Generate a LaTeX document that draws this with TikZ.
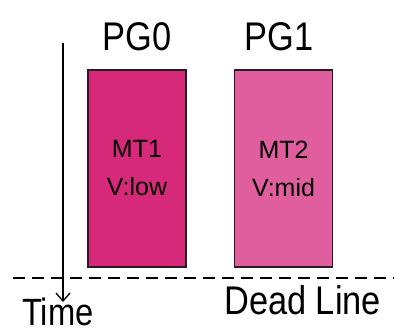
\documentclass[tikz,border=0pt]{standalone}
\usepackage{fontspec}
\setmainfont{Liberation Sans}
\newfontfamily\gothic[FakeStretch=0.86]{Liberation Sans}
\usetikzlibrary{arrows.meta}
\definecolor{rosaPG}{HTML}{D6297A}
\definecolor{rosaClaro}{HTML}{E05E9E}
\definecolor{bordeCaja}{HTML}{2A1A22}

\begin{document}
\begin{tikzpicture}[x=1pt,y=-1pt,>={Straight Barb[length=8pt,width=14pt]}]
  \useasboundingbox (0,0) rectangle (394,335);
  \tikzset{
    caja/.style={draw=bordeCaja,line width=1.4pt,minimum width=98pt,
      minimum height=197pt,inner sep=0pt,align=center,
      font=\fontsize{25}{38}\selectfont},
    etiqueta/.style={anchor=base,inner sep=0pt,font=\gothic\fontsize{40}{40}\selectfont}
  }
  % bloques de cada PG
  \node[caja,fill=rosaPG] (mt1) at (137,168.5) {MT1\\V:low};
  \node[caja,fill=rosaClaro] (mt2) at (283.5,168.5) {MT2\\V:mid};
  \node[etiqueta] (pg0) at (137,50) {PG0};
  \node[etiqueta] (pg1) at (279,50) {PG1};
  % linea limite
  \coordinate (dlA) at (13,278);
  \coordinate (dlB) at (394,278);
  \draw[line width=1.4pt,dash pattern=on 12pt off 7pt] (dlA) -- (dlB);
  \node[etiqueta,anchor=base west] (dl) at (224,314) {Dead Line};
  % eje del tiempo
  \coordinate (t0) at (63,43);
  \coordinate (t1) at (63,302);
  \draw[line width=1.3pt,->] (t0) -- (t1);
  \node[etiqueta,anchor=base west,font=\gothic\fontsize{38}{38}\selectfont] (time) at (22,325) {Time};
\end{tikzpicture}
\end{document}
